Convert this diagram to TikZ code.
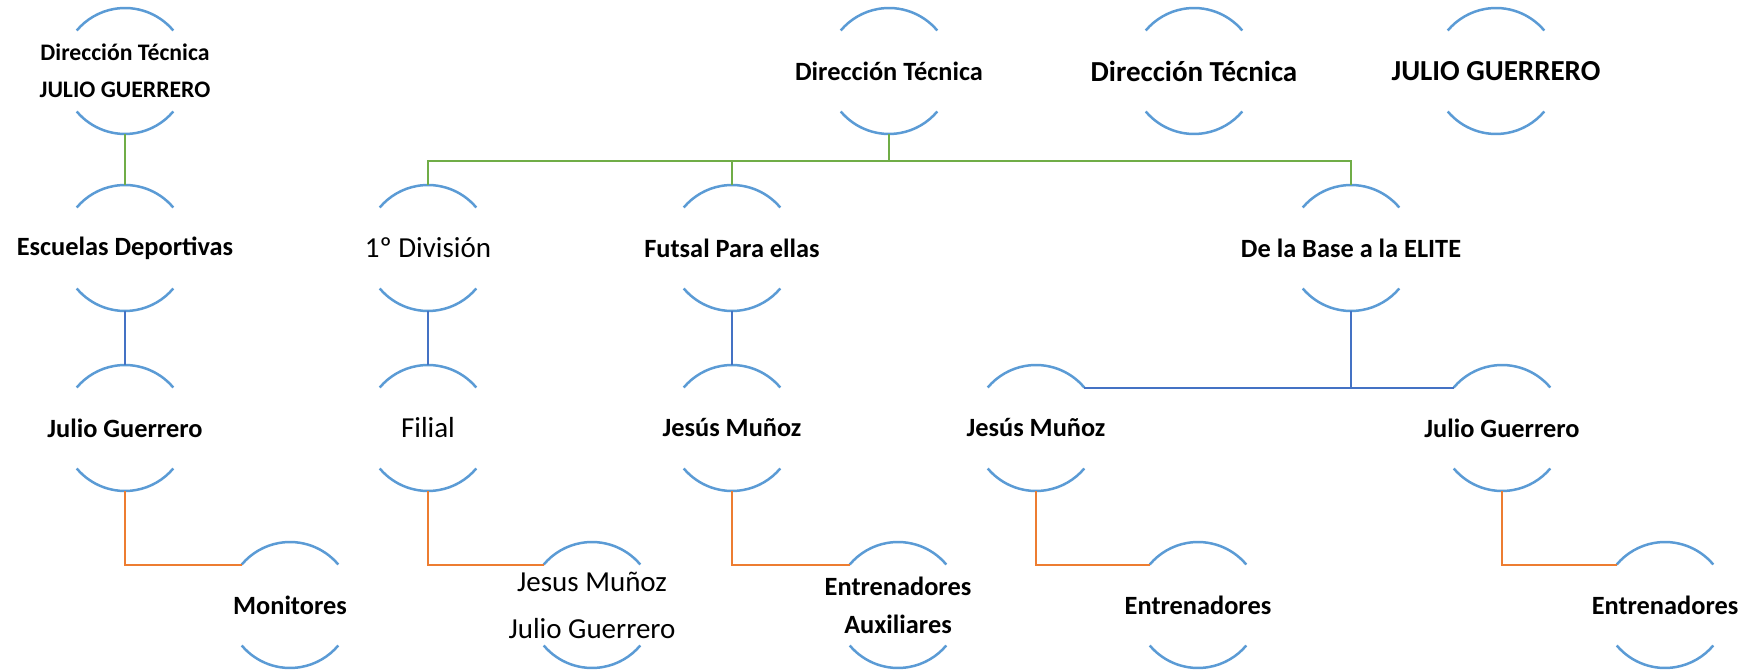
\documentclass[tikz,border=0pt]{standalone}
\usepackage{fontspec}
\setmainfont{Carlito}
\definecolor{ringblue}{HTML}{5B9BD5}
\definecolor{linegreen}{HTML}{70AD47}
\definecolor{lineblue}{HTML}{4472C4}
\definecolor{lineorange}{HTML}{ED7D31}

\begin{document}
\begin{tikzpicture}[x=0.02cm, y=-0.02cm,
  ring/.style={circle, minimum size=2.52cm, inner sep=0pt, outer sep=0pt},
  arcline/.style={ringblue, line width=0.5mm},
  grn/.style={linegreen, line width=0.4mm},
  blu/.style={lineblue, line width=0.4mm},
  org/.style={lineorange, line width=0.4mm},
  bt/.style={font=\fontsize{15}{21.6}\selectfont\bfseries, align=center},
  btbig/.style={font=\fontsize{16.5}{20}\selectfont\bfseries, align=center},
  btsmall/.style={font=\fontsize{13.5}{21}\selectfont\bfseries, align=center},
  rt/.style={font=\fontsize{16.5}{26.7}\selectfont, align=center}]
\useasboundingbox (0,0) rectangle (1753,671);

% first row
\node[ring, label={[btsmall]center:Dirección Técnica\\JULIO GUERRERO}] (dtA) at (125,71) {};
\node[ring, label={[bt]center:Dirección Técnica}] (dtB) at (889,71) {};
\node[ring, label={[btbig]center:Dirección Técnica}] (dtC) at (1194,71) {};
\node[ring, label={[btbig]center:JULIO GUERRERO}] (jgD) at (1496,71) {};

% second row
\node[ring, label={[bt]center:Escuelas Deportivas}] (esc) at (125,248) {};
\node[ring, label={[rt]center:1º División}] (div) at (428,248) {};
\node[ring, label={[bt]center:Futsal Para ellas}] (fut) at (732,248) {};
\node[ring, label={[bt]center:De la Base a la ELITE}] (elite) at (1351,248) {};

% third row
\node[ring, label={[bt]center:Julio Guerrero}] (jg1) at (125,428) {};
\node[ring, label={[rt]center:Filial}] (fil) at (428,428) {};
\node[ring, label={[bt]center:Jesús Muñoz}] (jm1) at (732,428) {};
\node[ring, label={[bt]center:Jesús Muñoz}] (jm2) at (1036,428) {};
\node[ring, label={[bt]center:Julio Guerrero}] (jg2) at (1502,428) {};

% fourth row
\node[ring, label={[bt]center:Monitores}] (mon) at (290,605) {};
\node[ring, label={[rt]center:Jesus Muñoz\\Julio Guerrero}] (jmjg) at (592,605) {};
\node[ring, label={[bt]center:Entrenadores\\Auxiliares}] (aux) at (898,605) {};
\node[ring, label={[bt]center:Entrenadores}] (ent1) at (1198,605) {};
\node[ring, label={[bt]center:Entrenadores}] (ent2) at (1665,605) {};

% open rings
\foreach \n in {dtA,dtB,dtC,jgD,esc,div,fut,elite,jg1,fil,jm1,jm2,jg2,mon,jmjg,aux,ent1,ent2} {
  \draw[arcline] (\n.40) arc[start angle=40, end angle=140, radius=1.26cm];
  \draw[arcline] (\n.220) arc[start angle=220, end angle=320, radius=1.26cm];
}

% green links
\draw[grn] (dtA.south) -- (esc.north);
\coordinate (bus) at (889,161);
\draw[grn] (dtB.south) -- (bus);
\foreach \c in {div,fut,elite}
  \draw[grn] (bus) -| (\c.north);

% blue links
\draw[blu] (esc.south) -- (jg1.north);
\draw[blu] (div.south) -- (fil.north);
\draw[blu] (fut.south) -- (jm1.north);
\draw[blu] (elite.south) -- (elite.south |- jm2.40);
\draw[blu] (jm2.40) -- (jg2.140);

% orange links
\draw[org] (jg1.south) |- (mon.140);
\draw[org] (fil.south) |- (jmjg.140);
\draw[org] (jm1.south) |- (aux.140);
\draw[org] (jm2.south) |- (ent1.140);
\draw[org] (jg2.south) |- (ent2.140);
\end{tikzpicture}
\end{document}
